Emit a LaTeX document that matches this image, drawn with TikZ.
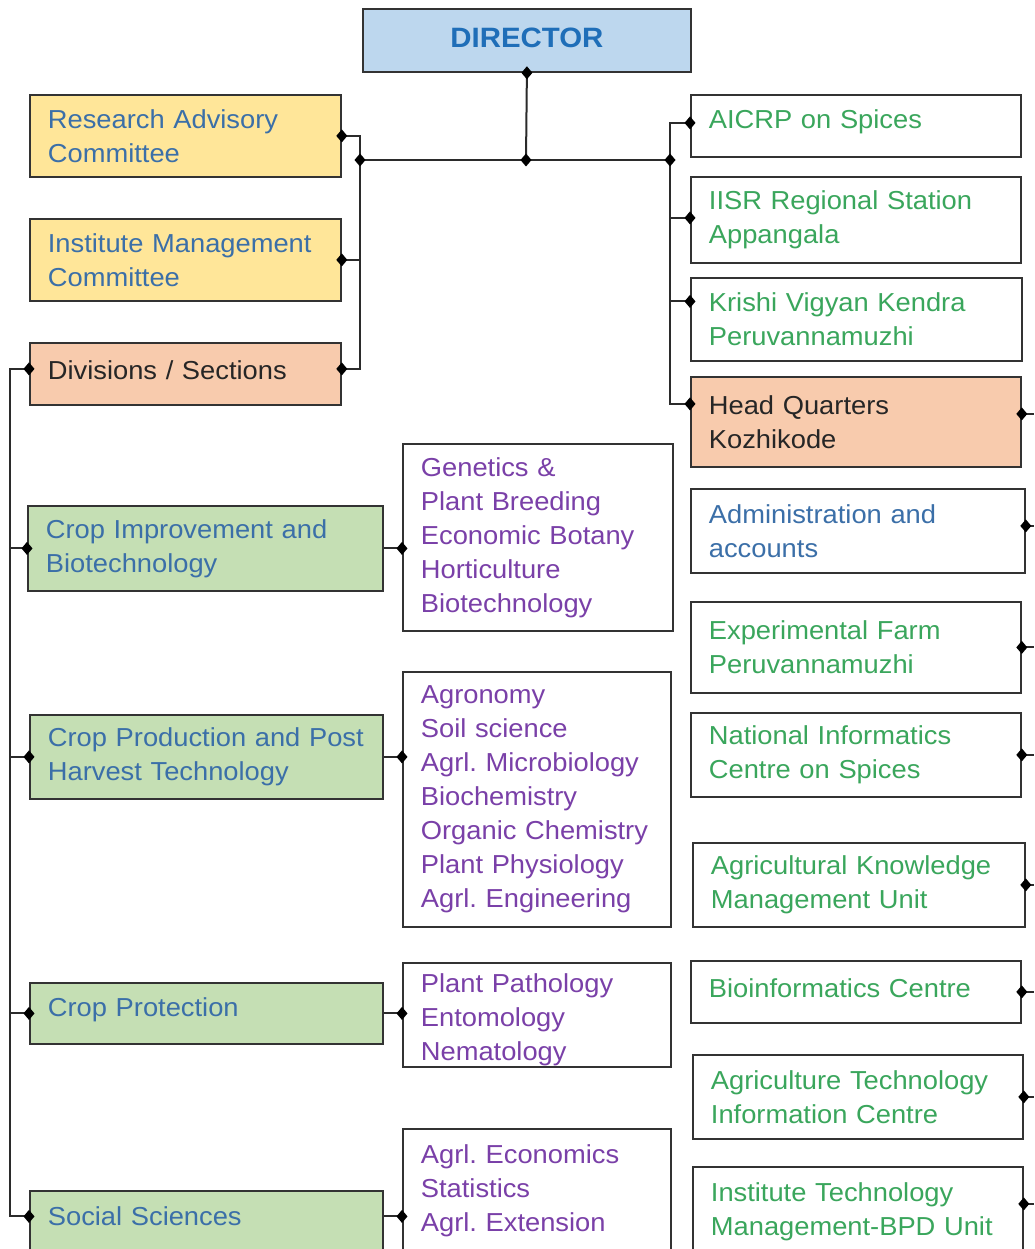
\documentclass[tikz,border=0pt]{standalone}
\usepackage{fontspec}
\setmainfont{Liberation Sans}[FakeStretch=1.05]
\frenchspacing
\definecolor{boxline}{HTML}{333333}
\definecolor{wire}{HTML}{2B2B2B}
\definecolor{dirfill}{HTML}{BDD7EE}
\definecolor{dirtext}{HTML}{1F6EB8}
\definecolor{yel}{HTML}{FFE699}
\definecolor{peach}{HTML}{F8CBAD}
\definecolor{grn}{HTML}{C5DFB4}
\definecolor{tblue}{HTML}{3B6FA8}
\definecolor{tgreen}{HTML}{3AA65C}
\definecolor{tpurple}{HTML}{7A40A8}
\definecolor{tdark}{HTML}{262626}
\begin{document}
\begin{tikzpicture}[x=1pt,y=-1pt,
  box/.style={draw=boxline, line width=1.8pt, rectangle, anchor=north west,
    inner xsep=18pt, inner ysep=0pt, align=left,
    font=\fontsize{26}{34}\selectfont},
  conn/.style={draw=wire, line width=2pt},
  knot/.pic={\fill[black] (-5.5,0) -- (0,-6.5) -- (5.5,0) -- (0,6.5) -- cycle;}]
\useasboundingbox (0,0) rectangle (1034,1249);
\fill[white] (0,0) rectangle (1034,1249);

% ---------- top ----------
\node[box, fill=dirfill, text=dirtext, align=center, minimum width=328pt,
  minimum height=63pt, text width=292pt,
  font=\fontsize{28}{34}\selectfont\bfseries] (dir) at (362,8)
  {\rule[-6pt]{0pt}{0pt}DIRECTOR};

\node[box, fill=yel, text=tblue, minimum width=311pt, minimum height=82pt,
  text width=275pt] (rac) at (29,94) {Research Advisory\\Committee};
\node[box, fill=yel, text=tblue, minimum width=311pt, minimum height=82pt,
  text width=275pt] (imc) at (29,218) {Institute Management\\Committee};
\node[box, fill=peach, text=tdark, minimum width=311pt, minimum height=62pt,
  text width=275pt] (div) at (29,342) {\rule[-8pt]{0pt}{0pt}Divisions / Sections};

% ---------- right column ----------
\node[box, text=tgreen, minimum width=330pt, minimum height=62pt,
  text width=294pt] (aicrp) at (690,94) {\rule[-14pt]{0pt}{0pt}AICRP on Spices};
\node[box, text=tgreen, minimum width=330pt, minimum height=86pt,
  text width=294pt] (iisr) at (690,176) {IISR Regional Station\\Appangala};
\node[box, text=tgreen, minimum width=331pt, minimum height=83pt,
  text width=295pt] (kvk) at (690,277) {Krishi Vigyan Kendra\\Peruvannamuzhi};
\node[box, fill=peach, text=tdark, minimum width=330pt, minimum height=90pt,
  text width=294pt] (hq) at (690,376) {Head Quarters\\Kozhikode};
\node[box, text=tblue, minimum width=334pt, minimum height=84pt,
  text width=298pt] (adm) at (690,488) {Administration and\\accounts};
\node[box, text=tgreen, minimum width=330pt, minimum height=91pt,
  text width=294pt] (exf) at (690,601) {Experimental Farm\\Peruvannamuzhi};
\node[box, text=tgreen, minimum width=330pt, minimum height=84pt,
  text width=294pt] (nic) at (690,712) {National Informatics\\Centre on Spices};
\node[box, text=tgreen, minimum width=332pt, minimum height=84pt,
  text width=296pt] (akmu) at (692,842) {Agricultural Knowledge\\Management Unit};
\node[box, text=tgreen, minimum width=330pt, minimum height=62pt,
  text width=294pt] (bio) at (690,960) {\rule[-8pt]{0pt}{0pt}Bioinformatics Centre};
\node[box, text=tgreen, minimum width=330pt, minimum height=84pt,
  text width=294pt] (atic) at (692,1054) {Agriculture Technology\\Information Centre};
\node[box, text=tgreen, minimum width=330pt, minimum height=118pt,
  text width=294pt] (itm) at (692,1166) {Institute Technology\\Management-BPD Unit\\\mbox{}};

% ---------- divisions ----------
\node[box, fill=grn, text=tblue, minimum width=355pt, minimum height=85pt,
  text width=319pt] (ci) at (27,505) {Crop Improvement and\\Biotechnology};
\node[box, fill=grn, text=tblue, minimum width=353pt, minimum height=84pt,
  text width=317pt] (cp) at (29,714) {\mbox{Crop Production and Post}\\Harvest Technology};
\node[box, fill=grn, text=tblue, minimum width=353pt, minimum height=61pt,
  text width=317pt] (cprot) at (29,982) {\rule[-12pt]{0pt}{0pt}Crop Protection};
\node[box, fill=grn, text=tblue, minimum width=353pt, minimum height=85pt,
  text width=317pt] (ss) at (29,1190) {Social Sciences\\\mbox{}};

% ---------- sections ----------
\node[box, text=tpurple, minimum width=270pt, minimum height=187pt,
  text width=234pt] (gen) at (402,443)
  {Genetics \&\\Plant Breeding\\Economic Botany\\Horticulture\\Biotechnology};
\node[box, text=tpurple, minimum width=268pt, minimum height=255pt,
  text width=232pt] (agr) at (402,671)
  {Agronomy\\Soil science\\Agrl. Microbiology\\Biochemistry\\\mbox{Organic Chemistry}\\Plant Physiology\\Agrl. Engineering};
\node[box, text=tpurple, minimum width=268pt, minimum height=104pt,
  text width=232pt] (pp) at (402,962)
  {\rule{0pt}{29pt}Plant Pathology\\Entomology\\Nematology};
\node[box, text=tpurple, minimum width=268pt, minimum height=152pt,
  text width=232pt] (eco) at (402,1128)
  {Agrl. Economics\\Statistics\\Agrl. Extension\\\mbox{}};

% ---------- bus coordinates ----------
\coordinate (hj) at (526,160);
\coordinate (lj) at (360,160);
\coordinate (rj) at (670,160);
\coordinate (lb) at (10,0);
\coordinate (rb) at (1034,0);
\coordinate (a1) at ([yshift=3pt]aicrp.west);
\coordinate (i1) at ([yshift=2pt]iisr.west);
\coordinate (k1) at ([yshift=18pt]kvk.west);
\coordinate (q1) at ([yshift=18pt]hq.west);
\coordinate (q2) at ([yshift=8pt]hq.east);
\coordinate (d1) at ([yshift=5pt]adm.east);
\coordinate (t1) at ([yshift=22pt]itm.east);
\coordinate (v1) at ([yshift=5pt]div.west);
\coordinate (v2) at ([yshift=5pt]div.east);
\coordinate (s1) at ([yshift=17pt]ss.west);
\coordinate (s2) at ([yshift=17pt]ss.east);

% ---------- connectors ----------
\draw[conn] (dir.south) -- (hj);
\draw[conn] (lj) -- (rj);
\draw[conn] (rac.east) -- (rac.east -| lj) -- (v2 -| lj) -- (v2);
\draw[conn] (imc.east) -- (imc.east -| lj);
\draw[conn] (a1) -- (a1 -| rj) -- (q1 -| rj) -- (q1);
\draw[conn] (i1 -| rj) -- (i1);
\draw[conn] (k1 -| rj) -- (k1);
\draw[conn] (q2) -- (q2 -| rb);
\draw[conn] (d1) -- (d1 -| rb);
\foreach \n in {exf,nic,akmu,bio,atic}
  \draw[conn] (\n.east) -- (\n.east -| rb);
\draw[conn] (t1) -- (t1 -| rb);

\draw[conn] (v1) -- (v1 -| lb) -- (s1 -| lb) -- (s1);
\foreach \n in {ci,cp,cprot}
  \draw[conn] (\n.west -| lb) -- (\n.west);
\draw[conn] (ci.east) -- (ci.east -| gen.west);
\draw[conn] (cp.east) -- (cp.east -| agr.west);
\draw[conn] (cprot.east) -- (cprot.east -| pp.west);
\draw[conn] (s2) -- (s2 -| eco.west);

% ---------- junction marks ----------
\foreach \p in {dir.south,hj,lj,rj,rac.east,imc.east,v1,v2,
  a1,i1,k1,q1,q2,d1,exf.east,nic.east,akmu.east,bio.east,atic.east,t1,
  ci.west,cp.west,cprot.west,s1}
  \pic at (\p) {knot};
\pic at (ci.east -| gen.west) {knot};
\pic at (cp.east -| agr.west) {knot};
\pic at (cprot.east -| pp.west) {knot};
\pic at (s2 -| eco.west) {knot};
\end{tikzpicture}
\end{document}
